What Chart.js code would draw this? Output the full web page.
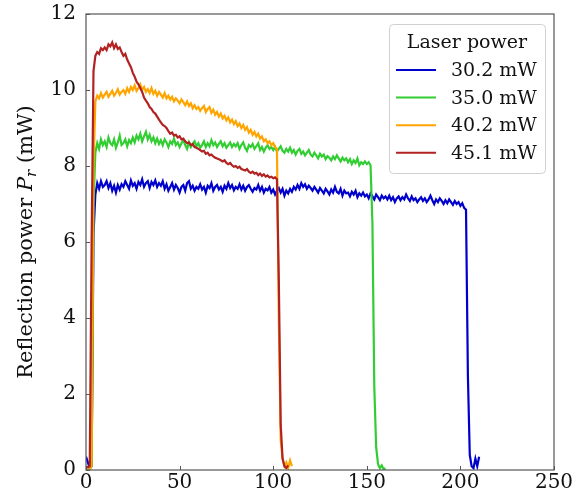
<!DOCTYPE html>
<html lang="en">
<head>
<meta charset="UTF-8">
<title>Reflection power</title>
<script src="https://cdn.jsdelivr.net/npm/chart.js@4.4.0/dist/chart.umd.min.js"></script>
<style>
  html, body { margin: 0; padding: 0; background: #fff; }
  canvas { display: block; }
</style>
</head>
<body>
<canvas id="chart" width="576" height="504"></canvas>
<script>
// reflection power P_r in mW, one sample per x unit, starting at x = 0
const p302 = [
  0.35, 0.2, 0.05, 0.1, 6.2, 7.25, 7.55, 7.4, 7.6, 7.45,
  7.5, 7.6, 7.42, 7.55, 7.35, 7.48, 7.3, 7.5, 7.38, 7.52,
  7.45, 7.6, 7.5, 7.4, 7.62, 7.48, 7.55, 7.4, 7.58, 7.5,
  7.65, 7.45, 7.55, 7.6, 7.42, 7.58, 7.5, 7.62, 7.45, 7.55,
  7.48, 7.6, 7.4, 7.52, 7.35, 7.45, 7.55, 7.38, 7.5, 7.42,
  7.3, 7.45, 7.5, 7.35, 7.55, 7.6, 7.4, 7.48, 7.35, 7.45,
  7.4, 7.52, 7.38, 7.45, 7.3, 7.48, 7.42, 7.55, 7.35, 7.45,
  7.5, 7.38, 7.45, 7.32, 7.48, 7.4, 7.55, 7.42, 7.5, 7.36,
  7.45, 7.4, 7.52, 7.38, 7.48, 7.35, 7.45, 7.5, 7.4, 7.32,
  7.42, 7.38, 7.5, 7.35, 7.45, 7.3, 7.4, 7.36, 7.45, 7.3,
  7.38, 7.25, 7.35, 7.42, 7.3, 7.4, 7.22, 7.35, 7.28, 7.4,
  7.32, 7.45, 7.38, 7.5, 7.4, 7.55, 7.45, 7.52, 7.4, 7.48,
  7.42, 7.35, 7.45, 7.38, 7.3, 7.42, 7.35, 7.28, 7.4, 7.33,
  7.25, 7.38, 7.3, 7.45, 7.32, 7.28, 7.4, 7.22, 7.35, 7.28,
  7.3, 7.2, 7.32, 7.25, 7.35, 7.18, 7.28, 7.22, 7.3, 7.2,
  7.25, 7.15, 7.28, 7.2, 7.12, 7.25, 7.18, 7.1, 7.22, 7.15,
  7.2, 7.12, 7.22, 7.1, 7.18, 7.05, 7.15, 7.2, 7.1, 7.18,
  7.12, 7.25, 7.15, 7.08, 7.2, 7.1, 7.15, 7.05, 7.12, 7.18,
  7.08, 7.15, 7.05, 7.12, 7.22, 7.1, 7.0, 7.12, 7.05, 7.15,
  7.08, 7.0, 7.1, 7.02, 7.12, 7.05, 6.98, 7.08, 7.0, 7.05,
  6.95, 7.02, 6.9, 6.85, 2.5, 0.4, 0.1, 0.05, 0.3, 0.1, 0.35
];
const p350 = [
  0.0, 0.0, 0.02, 0.1, 7.0, 8.35, 8.6, 8.45, 8.7, 8.55,
  8.65, 8.5, 8.75, 8.6, 8.55, 8.7, 8.48, 8.62, 8.8, 8.55,
  8.6, 8.7, 8.52, 8.68, 8.6, 8.75, 8.62, 8.8, 8.7, 8.85,
  8.65, 8.78, 8.9, 8.7, 8.82, 8.65, 8.75, 8.6, 8.72, 8.58,
  8.68, 8.55, 8.7, 8.62, 8.5, 8.65, 8.58, 8.72, 8.55, 8.62,
  8.5, 8.6, 8.68, 8.55, 8.45, 8.62, 8.5, 8.58, 8.65, 8.52,
  8.6, 8.48, 8.55, 8.65, 8.5, 8.6, 8.52, 8.68, 8.55, 8.62,
  8.5, 8.58, 8.65, 8.52, 8.6, 8.48, 8.55, 8.62, 8.5, 8.58,
  8.52, 8.6, 8.45, 8.55, 8.62, 8.48, 8.4, 8.55, 8.5, 8.58,
  8.45, 8.52, 8.6, 8.42, 8.5, 8.38, 8.48, 8.55, 8.45, 8.5,
  8.42, 8.5, 8.38, 8.45, 8.52, 8.4, 8.35, 8.45, 8.38, 8.48,
  8.35, 8.42, 8.3, 8.4, 8.45, 8.32, 8.38, 8.28, 8.35, 8.42,
  8.3, 8.25, 8.35, 8.28, 8.2, 8.32, 8.25, 8.3, 8.18, 8.26,
  8.22, 8.15, 8.25, 8.18, 8.28, 8.2, 8.12, 8.22, 8.15, 8.2,
  8.1, 8.18, 8.05, 8.15, 8.08, 8.2, 8.02, 8.1, 8.05, 8.12,
  8.05, 8.1, 8.02, 6.5, 2.2, 0.6, 0.15, 0.05, 0.12, 0.02, 0.05
];
const p402 = [
  0.0, 0.0, 0.02, 0.1, 8.0, 9.7, 9.85, 9.78, 9.92, 9.8,
  9.88, 9.95, 9.82, 9.9, 9.98, 9.85, 9.92, 10.02, 9.88, 9.95,
  10.0, 9.9, 10.05, 9.95, 10.08, 10.0, 10.12, 9.98, 10.05, 10.15,
  10.0, 10.08, 9.95, 10.02, 9.92, 10.05, 9.9, 9.98, 9.85, 9.95,
  9.88, 9.8, 9.92, 9.78, 9.85, 9.75, 9.82, 9.7, 9.78, 9.72,
  9.65, 9.75, 9.68, 9.6, 9.7, 9.58, 9.65, 9.52, 9.6, 9.5,
  9.55, 9.45, 9.52, 9.58, 9.42, 9.5, 9.55, 9.4, 9.48, 9.35,
  9.42, 9.3, 9.38, 9.25, 9.32, 9.2, 9.28, 9.15, 9.22, 9.1,
  9.18, 9.05, 9.12, 9.0, 9.08, 8.95, 9.02, 8.88, 8.95, 8.82,
  8.9, 8.78, 8.85, 8.72, 8.78, 8.65, 8.7, 8.6, 8.65, 8.55,
  8.6, 8.5, 8.45, 4.0, 0.8, 0.3, 0.1, 0.2, 0.05, 0.25, 0.1
];
const p451 = [
  0.05, 0.08, 0.1, 6.0, 10.5, 10.9, 11.0, 10.95, 11.1, 11.05,
  11.12, 11.05, 11.2, 11.15, 11.25, 11.1, 11.2, 11.08, 11.12, 11.0,
  10.9, 10.95, 10.8, 10.7, 10.6, 10.45, 10.35, 10.22, 10.15, 10.05,
  9.95, 9.8, 9.72, 9.65, 9.55, 9.5, 9.42, 9.38, 9.3, 9.22,
  9.15, 9.08, 9.05, 9.0, 8.92, 8.85, 8.88, 8.8, 8.82, 8.75,
  8.78, 8.7, 8.72, 8.65, 8.6, 8.62, 8.55, 8.58, 8.5, 8.48,
  8.45, 8.42, 8.38, 8.4, 8.32, 8.35, 8.28, 8.3, 8.25, 8.22,
  8.2, 8.18, 8.15, 8.12, 8.15, 8.08, 8.05, 8.08, 8.02, 7.98,
  8.0, 7.95, 7.98, 7.92, 7.9, 7.88, 7.92, 7.85, 7.82, 7.85,
  7.8, 7.82, 7.76, 7.8, 7.74, 7.78, 7.72, 7.75, 7.7, 7.72,
  7.68, 7.7, 7.65, 5.0, 1.2, 0.3, 0.1, 0.05, 0.12
];

const seriesNames = ['30.2 mW', '35.0 mW', '40.2 mW', '45.1 mW'];
const seriesColors = ['#0000cd', '#32cd32', '#ffa500', '#b22222'];
const xTicks = [0, 50, 100, 150, 200, 250];
const yTicks = [0, 2, 4, 6, 8, 10, 12];
const legendTitle = 'Laser power';

const FONT = '"DejaVu Serif", serif';

function toPoints(vals) {
  return vals.map((v, i) => ({ x: i, y: v }));
}

const allSeries = [p302, p350, p402, p451];
const datasets = allSeries.map((vals, k) => ({
  label: seriesNames[k],
  data: toPoints(vals),
  borderColor: seriesColors[k],
  borderWidth: 2.2,
  pointRadius: 0,
  tension: 0,
  order: allSeries.length - k   // later series on top
}));

// frame, inward ticks, y title and the legend box
const decor = {
  id: 'decor',
  afterDraw(chart) {
    const ctx = chart.ctx;
    const a = chart.chartArea;
    const xs = chart.scales.x, ys = chart.scales.y;
    ctx.save();

    ctx.strokeStyle = '#555';
    ctx.lineWidth = 1.2;
    ctx.strokeRect(a.left, a.top, a.right - a.left, a.bottom - a.top);

    ctx.lineWidth = 1;
    ctx.beginPath();
    xTicks.forEach(t => {
      const px = Math.round(xs.getPixelForValue(t)) + 0.5;
      ctx.moveTo(px, a.bottom); ctx.lineTo(px, a.bottom - 4);
    });
    yTicks.forEach(t => {
      const py = Math.round(ys.getPixelForValue(t)) + 0.5;
      ctx.moveTo(a.left, py); ctx.lineTo(a.left + 4, py);
    });
    ctx.stroke();

    // y axis title with italic P and subscript r
    const parts = [
      { t: 'Reflection power ', f: '21px ' + FONT, dy: 0 },
      { t: 'P', f: 'italic 21px ' + FONT, dy: 0 },
      { t: 'r', f: 'italic 15px ' + FONT, dy: 4 },
      { t: ' (mW)', f: '21px ' + FONT, dy: 0 }
    ];
    let total = 0;
    parts.forEach(p => { ctx.font = p.f; p.w = ctx.measureText(p.t).width; total += p.w; });
    ctx.translate(32, (a.top + a.bottom) / 2);
    ctx.rotate(-Math.PI / 2);
    ctx.fillStyle = '#111';
    ctx.textBaseline = 'alphabetic';
    ctx.textAlign = 'left';
    let cx = -total / 2;
    parts.forEach(p => {
      ctx.font = p.f;
      ctx.fillText(p.t, cx, p.dy);
      cx += p.w;
    });
    ctx.setTransform(1, 0, 0, 1, 0, 0);

    // legend
    const bw = 156, bh = 149;
    const bx = a.right - 9 - bw, by = a.top + 10;
    ctx.fillStyle = 'rgba(255,255,255,0.85)';
    ctx.strokeStyle = '#d0d0d0';
    ctx.lineWidth = 1;
    ctx.beginPath();
    ctx.roundRect(bx + 0.5, by + 0.5, bw, bh, 4);
    ctx.fill();
    ctx.stroke();

    ctx.fillStyle = '#111';
    ctx.font = '19px ' + FONT;
    ctx.textAlign = 'center';
    ctx.textBaseline = 'middle';
    ctx.fillText(legendTitle, bx + bw / 2, by + 19);

    ctx.textAlign = 'left';
    chart.data.datasets.forEach((ds, i) => {
      const ry = by + 46 + i * 27.6;
      ctx.strokeStyle = ds.borderColor;
      ctx.lineWidth = 2;
      ctx.beginPath();
      ctx.moveTo(bx + 7, ry); ctx.lineTo(bx + 47, ry);
      ctx.stroke();
      ctx.fillStyle = '#111';
      ctx.fillText(ds.label, bx + 62, ry + 1);
    });

    ctx.restore();
  }
};

new Chart(document.getElementById('chart'), {
  type: 'line',
  data: { datasets: datasets },
  options: {
    responsive: false,
    animation: false,
    layout: { autoPadding: false, padding: { top: 14, right: 22, left: 0, bottom: 0 } },
    plugins: { legend: { display: false }, tooltip: { enabled: false } },
    scales: {
      x: {
        type: 'linear', min: 0, max: 250,
        afterFit: s => { s.height = 34; s.paddingLeft = 0; s.paddingRight = 0; },
        afterBuildTicks: s => { s.ticks = xTicks.map(v => ({ value: v })); },
        grid: { display: false, drawTicks: false },
        border: { display: false },
        ticks: { color: '#111', font: { family: FONT, size: 20 }, padding: 1, maxRotation: 0 }
      },
      y: {
        type: 'linear', min: 0, max: 12,
        afterFit: s => { s.width = 86; s.paddingTop = 0; s.paddingBottom = 0; },
        afterBuildTicks: s => { s.ticks = yTicks.map(v => ({ value: v })); },
        grid: { display: false, drawTicks: false },
        border: { display: false },
        ticks: { color: '#111', font: { family: FONT, size: 20 }, padding: 10 }
      }
    }
  },
  plugins: [decor]
});
</script>
</body>
</html>
